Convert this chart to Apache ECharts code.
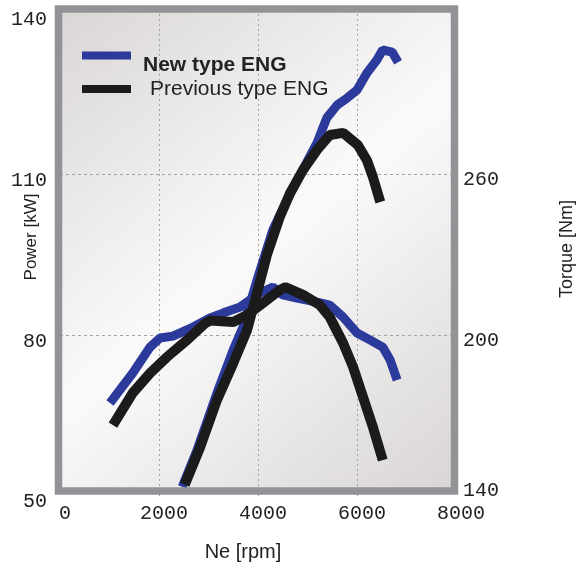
<!DOCTYPE html>
<html><head><meta charset="utf-8">
<script src="https://cdn.jsdelivr.net/npm/echarts@6/dist/echarts.min.js"></script>
<style>html,body{margin:0;padding:0;background:#fff}#c{width:580px;height:567px}</style>
</head><body><div id="c"></div>
<script>
// tick labels
const rpmTicks = [0, 2000, 4000, 6000, 8000];
const powerTicks = [50, 80, 110, 140];
const torqueTicks = [140, 200, 260];
const powerGrid = [80, 110];

// series names
const newName = 'New type ENG';
const prevName = 'Previous type ENG';

// New type ENG - torque [Nm]
const newTorqueRpm = [1010, 1470, 1820, 2020, 2280, 2690, 3030, 3290, 3640, 4040, 4300, 4500, 4790, 5190, 5450, 5720, 6000, 6260, 6520, 6670, 6810];
const newTorqueNm  = [174.7, 185.9, 195.6, 199.0, 199.7, 203.1, 206.5, 208.3, 210.6, 215.8, 218.0, 215.1, 213.9, 212.4, 211.3, 206.8, 200.9, 198.3, 195.6, 190.8, 183.3];

// Previous type ENG - torque [Nm]
const prevTorqueRpm = [1070, 1470, 1820, 2160, 2570, 2930, 3030, 3500, 3780, 4100, 4440, 4550, 4910, 5250, 5450, 5720, 5920, 6120, 6320, 6520];
const prevTorqueNm  = [166.5, 178.5, 185.9, 191.9, 198.3, 204.5, 205.5, 205.0, 207.6, 212.1, 216.9, 218.0, 215.1, 211.3, 206.8, 197.1, 188.2, 177.0, 165.8, 153.4];

// New type ENG - power [kW]
const newPowerRpm = [2470, 2770, 3170, 3500, 3700, 3980, 4300, 4590, 4850, 5190, 5390, 5600, 5800, 6000, 6200, 6400, 6520, 6710, 6830];
const newPowerKw  = [51.7, 58.6, 69.2, 77.3, 81.6, 90.3, 99.7, 105.3, 109.9, 115.9, 120.6, 123.0, 124.3, 125.8, 129.0, 131.4, 133.3, 132.9, 131.0];

// Previous type ENG - power [kW]
const prevPowerRpm = [2520, 2830, 3170, 3500, 3780, 3980, 4180, 4440, 4650, 4910, 5190, 5450, 5720, 6020, 6200, 6320, 6470];
const prevPowerKw  = [52.1, 59.1, 67.9, 74.8, 81.0, 87.9, 95.0, 102.1, 106.6, 110.9, 114.6, 117.4, 117.8, 115.5, 112.7, 109.6, 104.9];

const pair = (xs, ys) => xs.map((x, i) => [x, ys[i]]);
const BLUE = '#2b3a9b';
const BLACK = '#1c1b1b';
const GRIDC = '#a3a3a3';
const TXT = '#222222';

const chart = echarts.init(document.getElementById('c'));
const lineSeries = (name, axis, data, color, width) => ({
  name: name, type: 'line', yAxisIndex: axis, data: data, symbol: 'none',
  lineStyle: { width: width, color: color, cap: 'butt', join: 'bevel' },
  itemStyle: { color: color }, emphasis: { disabled: true }
});

chart.setOption({
  animation: false,
  grid: { left: 60, top: 14, width: 396, height: 482, containLabel: false, outerBoundsMode: 'none' },
  graphic: [
    { type: 'rect', z: -10, silent: true,
      shape: { x: 58.5, y: 9, width: 396, height: 482 },
      style: { fill: { type: 'linear', x: 0, y: 0, x2: 1, y2: 1,
        colorStops: [ { offset: 0, color: '#d9d6d5' }, { offset: 0.5, color: '#fbfafa' }, { offset: 1, color: '#d8d5d4' } ] } } },
    { type: 'rect', z: 100, silent: true,
      shape: { x: 58.5, y: 9, width: 396, height: 482 },
      style: { fill: 'none', stroke: '#929397', lineWidth: 7.5 } }
  ],
  legend: {
    left: 77, top: 40, orient: 'vertical', icon: 'rect',
    itemWidth: 49, itemHeight: 8, itemGap: 3,
    textStyle: {
      fontFamily: 'Liberation Sans', fontSize: 21, color: TXT,
      rich: {
        s: { lineHeight: 40, width: 7 },
        b: { fontFamily: 'Liberation Sans', fontSize: 21, fontWeight: 'bold', color: TXT, verticalAlign: 'bottom', lineHeight: 21 },
        r: { fontFamily: 'Liberation Sans', fontSize: 21, color: TXT, lineHeight: 21, padding: [0, 0, 0, 14] }
      }
    },
    formatter: function (name) {
      return name === newName ? '{s|}{b|' + name + '}' : '{r|' + name + '}';
    },
    data: [newName, prevName]
  },
  xAxis: {
    type: 'value', min: rpmTicks[0], max: rpmTicks[rpmTicks.length - 1], interval: 2000,
    axisLine: { show: false }, axisTick: { show: false },
    splitLine: { show: true, showMinLine: false, showMaxLine: false, lineStyle: { color: GRIDC, type: [2, 3], width: 1 } },
    axisLabel: { customValues: rpmTicks, formatter: v => String(v), fontFamily: 'Liberation Mono', fontSize: 20, color: TXT, margin: 8, padding: [0, 0, 0, 10] },
    name: 'Ne [rpm]', nameLocation: 'middle', nameGap: 46,
    nameTextStyle: { fontFamily: 'Liberation Sans', fontSize: 20, color: TXT, padding: [0, 30, 0, 0] }
  },
  yAxis: [
    {
      type: 'value', position: 'left', min: 50, max: 140,
      axisLine: { show: false }, axisTick: { show: false, customValues: powerGrid },
      splitLine: { show: true, lineStyle: { color: GRIDC, type: [3, 3], width: 1 } },
      axisLabel: { customValues: powerTicks, fontFamily: 'Liberation Mono', fontSize: 20, color: TXT, margin: 13, verticalAlign: 'top', lineHeight: 12 },
      name: 'Power [kW]', nameLocation: 'middle', nameRotate: 90, nameGap: 20, nameMoveOverlap: false,
      nameTextStyle: { fontFamily: 'Liberation Sans', fontSize: 17, color: TXT, padding: [0, 0, 0, 36] }
    },
    {
      type: 'value', position: 'right', min: 140, max: 320,
      axisLine: { show: false }, axisTick: { show: false, customValues: torqueTicks },
      splitLine: { show: false },
      axisLabel: { customValues: torqueTicks, fontFamily: 'Liberation Mono', fontSize: 20, color: TXT, margin: 7, verticalAlign: 'top', verticalAlignMinLabel: 'bottom', lineHeight: 10 },
      name: 'Torque [Nm]', nameLocation: 'middle', nameRotate: 90, nameGap: 102,
      nameTextStyle: { fontFamily: 'Liberation Sans', fontSize: 18, color: TXT, padding: [0, 0, 0, 12] }
    }
  ],
  series: [
    lineSeries(newName, 1, pair(newTorqueRpm, newTorqueNm), BLUE, 9),
    lineSeries(newName, 0, pair(newPowerRpm, newPowerKw), BLUE, 9),
    lineSeries(prevName, 1, pair(prevTorqueRpm, prevTorqueNm), BLACK, 10),
    lineSeries(prevName, 0, pair(prevPowerRpm, prevPowerKw), BLACK, 10)
  ]
});
</script>
</body></html>
